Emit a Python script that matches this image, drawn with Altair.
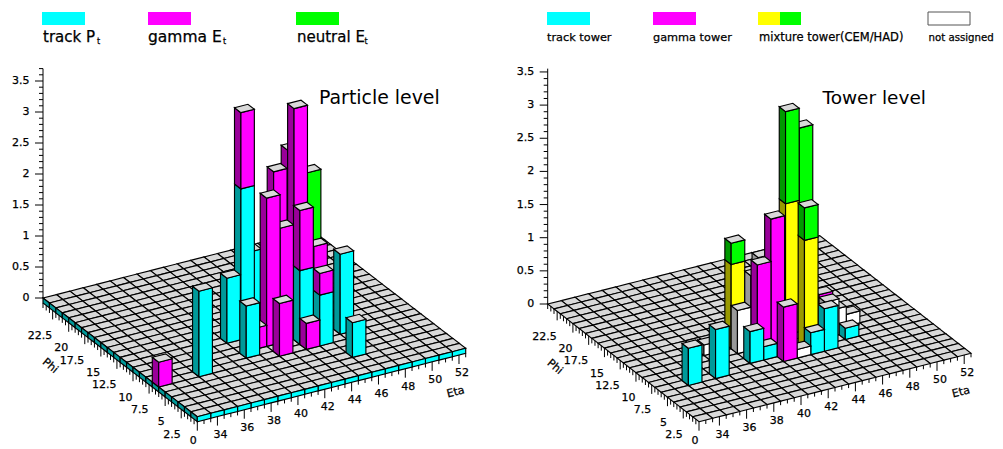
import altair as alt

# ---- values -----------------------------------------------------------------
# bins: eta bin centre, phi bin lower edge; stacked tower heights per category
L_ETA     = [33, 36, 40, 40, 42, 44, 46, 47, 45, 42, 42, 41, 43, 43, 45, 44, 46, 46, 45, 43]
L_PHI     = [ 6,  6, 10,  7,  6,  6,  3,  7,  6, 12,  8,  8,  9,  8, 10,  7, 10,  9, 11, 13]
L_TRACK   = [0, 1.38, 1.05, .84, 0, 0, .56, 1.29, .82, 2.22, 0, 0, 0, 0, 0, 1.19, 0, 0, 0, 1.06]
L_GAMMA   = [.40, 0, 0, 0, .85, .42, 0, 0, .35, 1.23, 2.39, .34, 2.68, 1.85, 3.51, .97, 0, 1.31, 2.76, 0]
L_NEUTRAL = [0, 0, 0, 0, 0, 0, 0, 0, 0, 0, 0, 0, 0, 0, 0, 0, 2.42, 0, 0, 0]

R_ETA   = [35, 37, 40, 40, 41, 42, 43, 44, 45, 47, 48, 47, 46, 46, 40, 41, 42, 41, 42, 44, 45, 44, 38]
R_PHI   = [ 6,  6,  7,  9,  7,  6,  6,  6,  6,  7,  9,  9,  8,  9, 10,  9, 10,  8,  8, 10, 10,  7, 10]
R_TRACK = [.56, .74, .48, 0, .2, 0, 0, .33, .64, .17, 0, 0, 0, 0, 0, 0, 0, 0, 0, 0, 0, 0, 0]
R_GAMMA = [0, 0, 0, 0, 0, .82, 0, 0, 0, 0, 0, 0, 0, .58, 0, 0, 0, 1.36, 2.0, 0, 0, 0, 0]
R_CEM   = [0, 0, 0, 0, 0, 0, 0, 0, 0, 0, 0, 0, 0, 0, 1.27, 0, 0, 0, 0, 1.98, 1.6, 1.65, 0]
R_HAD   = [0, 0, 0, 0, 0, 0, 0, 0, 0, 0, 0, 0, 0, 0, .32, 0, 0, 0, 0, 1.39, 1.47, .49, 0]
R_NA    = [0, 0, 0, .65, 0, 0, .13, 0, 0, 0, .18, .3, .54, 0, 0, 1.12, 1.27, 0, 0, 0, 0, 0, .16]

Z_TICKS = [0, .5, 1, 1.5, 2, 2.5, 3, 3.5]
ETA_TICKS = [34, 36, 38, 40, 42, 44, 46, 48, 50, 52]
PHI_TICKS = [0, 2.5, 5, 7.5, 10, 12.5, 15, 17.5, 20, 22.5]
Z_LABELS = ["0", "0.5", "1", "1.5", "2", "2.5", "3", "3.5"]
ETA_LABELS = [str(v) for v in ETA_TICKS]
PHI_LABELS = ["0", "2.5", "5", "7.5", "10", "12.5", "15", "17.5", "20", "22.5"]

LEFT_LEGEND = ["track P", "gamma E", "neutral E"]
RIGHT_LEGEND = ["track tower", "gamma tower", "mixture tower(CEM/HAD)", "not assigned"]

# ---- layout and style -------------------------------------------------------
M = 8  # page margin
W, H = 987, 441
CAP = "#d9d9d9"
CYAN, DCYAN = "#00ffff", "#009999"
MAG, DMAG = "#ff00ff", "#990099"
GRN, DGRN = "#00ff00", "#009900"
YEL, DYEL = "#ffff00", "#999900"
WHT, DWHT = "#ffffff", "#999999"
PAIRS = {CYAN: DCYAN, MAG: DMAG, GRN: DGRN, YEL: DYEL, WHT: DWHT}

L_VIEW = dict(front=(197.3, 416.7), left=(43.0, 298.0), right=(465.7, 348.3),
              z=62.0, zmax=3.7, band=5.0)
R_VIEW = dict(front=(699.0, 421.7), left=(547.7, 304.0), right=(971.0, 353.3),
              z=66.3, zmax=3.55, band=0.0)
ETA0, NETA, NPHI = 32.5, 20, 24


def project(view, eta, phi, z=0.0):
    fx, fy = view["front"]
    u = (eta - ETA0) / NETA
    v = phi / NPHI
    x = fx + u * (view["right"][0] - fx) + v * (view["left"][0] - fx)
    y = fy + u * (view["right"][1] - fy) + v * (view["left"][1] - fy) - z * view["z"]
    return x - M, y - M


polys, lines, texts, swatches = [], [], [], []


def poly(points, fill, into=None):
    ring = [list(p) for p in points] + [list(points[0])]
    (polys if into is None else into).append({
        "type": "Feature", "properties": {"fill": fill},
        "geometry": {"type": "Polygon", "coordinates": [ring]}})


def line(a, b):
    lines.append({"type": "Feature", "properties": {},
                  "geometry": {"type": "LineString", "coordinates": [list(a), list(b)]}})


def text(x, y, s, size=11, align="center", angle=0, weight=0.25):
    texts.append({"x": x, "y": y, "t": s, "s": size, "a": align, "r": angle, "w": weight})


def floor(view):
    drop = view["band"] / view["z"]
    for j in range(NPHI - 1, -1, -1):
        for i in range(NETA - 1, -1, -1):
            e0, e1 = ETA0 + i, ETA0 + i + 1
            poly([project(view, e0, j), project(view, e1, j),
                  project(view, e1, j + 1), project(view, e0, j + 1)], CAP)
            if drop and i == 0:
                poly([project(view, e0, j), project(view, e0, j + 1),
                      project(view, e0, j + 1, -drop), project(view, e0, j, -drop)], DCYAN)
            if drop and j == 0:
                poly([project(view, e0, j), project(view, e1, j),
                      project(view, e1, j, -drop), project(view, e0, j, -drop)], CYAN)


def towers(view, etas, phis, stacks):
    order = sorted(range(len(etas)), key=lambda k: -(etas[k] + phis[k]))
    for k in order:
        e0, e1, p0, p1 = etas[k] - .5, etas[k] + .5, phis[k], phis[k] + 1
        z = 0.0
        for values, colour in stacks:
            h = values[k]
            if not h:
                continue
            poly([project(view, e0, p0, z), project(view, e0, p1, z),
                  project(view, e0, p1, z + h), project(view, e0, p0, z + h)], PAIRS[colour])
            poly([project(view, e0, p0, z), project(view, e1, p0, z),
                  project(view, e1, p0, z + h), project(view, e0, p0, z + h)], colour)
            z += h
        poly([project(view, e0, p0, z), project(view, e1, p0, z),
              project(view, e1, p1, z), project(view, e0, p1, z)], CAP)


def frange(a, b, step):
    n = int(round((b - a) / step))
    return [a + step * k for k in range(n + 1)]


def axes(view):
    drop = view["band"] / view["z"]
    ax, ay = project(view, ETA0, NPHI)
    line((ax, ay), (ax, ay - view["zmax"] * view["z"]))
    for v in frange(0, view["zmax"], .1):
        major = abs(v * 2 - round(v * 2)) < 1e-6
        y = ay - v * view["z"]
        line((ax - (8 if major else 4), y), (ax, y))
    for v, s in zip(Z_TICKS, Z_LABELS):
        text(ax - 13.5, ay - v * view["z"], s, 11, "right")
    for v in frange(33, 52.5, .5):
        major = abs(v / 2 - round(v / 2)) < 1e-6
        x, y = project(view, v, 0, -drop)
        line((x, y), (x, y + (9 if major else 4)))
    for v, s in zip(ETA_TICKS, ETA_LABELS):
        x, y = project(view, v, 0, -drop)
        text(x + 3, y + 18, s, 11)
    for v in frange(0, 24, .5):
        major = abs(v / 2.5 - round(v / 2.5)) < 1e-6
        x, y = project(view, ETA0, v, -drop)
        line((x, y), (x, y + (9 if major else 5)))
    for v, s in zip(PHI_TICKS, PHI_LABELS):
        x, y = project(view, ETA0, v, -drop)
        # the lowest label stays just inside the page
        text(x - 0.5, min(y + 25.5, H - 8), s, 11, "right")
    x, y = project(view, 52.5, 0, -drop)
    text(x - 10, y + 39, "Eta", 11, "center", 346)
    x, y = project(view, ETA0, 24, -drop)
    text(x + 7, y + 63, "Phi", 11, "center", 40)


floor(L_VIEW)
towers(L_VIEW, L_ETA, L_PHI, [(L_TRACK, CYAN), (L_GAMMA, MAG), (L_NEUTRAL, GRN)])
axes(L_VIEW)
floor(R_VIEW)
towers(R_VIEW, R_ETA, R_PHI, [(R_TRACK, CYAN), (R_GAMMA, MAG), (R_CEM, YEL), (R_HAD, GRN), (R_NA, WHT)])
axes(R_VIEW)


def swatch(x0, x1, fill, y0=12, y1=25):
    a, b, c, d = x0 - M, x1 - M, y0 - M, y1 - M
    poly([(a, c), (b, c), (b, d), (a, d)], fill, swatches)


swatch(42, 85, CYAN)
swatch(148, 191, MAG)
swatch(296, 339, GRN)
swatch(547, 590, CYAN)
swatch(653, 696, MAG)
swatch(758, 780, YEL)
swatch(780, 801, GRN)
for s, x, sub, size in zip(LEFT_LEGEND, [43, 148, 297], [97, 223, 364.5], [15, 15.5, 15]):
    text(x - M, 37 - M, s, size, "left")
    text(sub - M, 42 - M, "t", 8, "left")
for s, x, size in zip(RIGHT_LEGEND, [547, 653, 759, 928.5], [11.3, 11.3, 11.5, 10.2]):
    text(x - M, 38 - M, s, size, "left")
text(319 - M, 98 - M, "Particle level", 18.9, "left", 0, 0)
text(822.5 - M, 98 - M, "Tower level", 18.5, "left", 0, 0)

# ---- chart ------------------------------------------------------------------
proj = alt.Projection(type="identity", scale=1, translate=[0, 0]).to_dict()
shape_layer = alt.Chart(alt.Data(values=polys)).mark_geoshape(stroke="black", strokeWidth=1.15).encode(
    fill=alt.Fill("properties.fill:N", scale=None)).project(**proj)
line_layer = alt.Chart(alt.Data(values=lines)).mark_geoshape(filled=False, stroke="black", strokeWidth=1).project(**proj)
swatch_layer = alt.Chart(alt.Data(values=swatches)).mark_geoshape(strokeWidth=0).encode(
    fill=alt.Fill("properties.fill:N", scale=None)).project(**proj)

# the "not assigned" swatch has a grey outline
x0, x1, y0, y1 = 928 - M, 970 - M, 12 - M, 25 - M
box = alt.Data(values=[{"type": "Feature", "properties": {},
                        "geometry": {"type": "Polygon",
                                     "coordinates": [[[x0, y0], [x1, y0], [x1, y1], [x0, y1], [x0, y0]]]}}])
box_layer = alt.Chart(box).mark_geoshape(fill="white", stroke="#555555", strokeWidth=1).project(**proj)

layers = [shape_layer, line_layer, swatch_layer, box_layer]
xs = alt.X("x:Q", scale=alt.Scale(domain=[0, W], nice=False, zero=False), axis=None)
ys = alt.Y("y:Q", scale=alt.Scale(domain=[0, H], reverse=True, nice=False, zero=False), axis=None)
for al in ["left", "center", "right"]:
    rows = [r for r in texts if r["a"] == al]
    layers.append(alt.Chart(alt.Data(values=rows)).mark_text(
        align=al, baseline="middle", font="DejaVu Sans", color="black", stroke="black").encode(
        x=xs, y=ys, text="t:N",
        size=alt.Size("s:Q", scale=None),
        strokeWidth=alt.StrokeWidth("w:Q", scale=None),
        angle=alt.Angle("r:Q", scale=None)))

chart = alt.layer(*layers).properties(width=W, height=H, padding=0).configure_view(stroke=None)
chart.save("out.html", embed_options={"renderer": "svg", "actions": False})
